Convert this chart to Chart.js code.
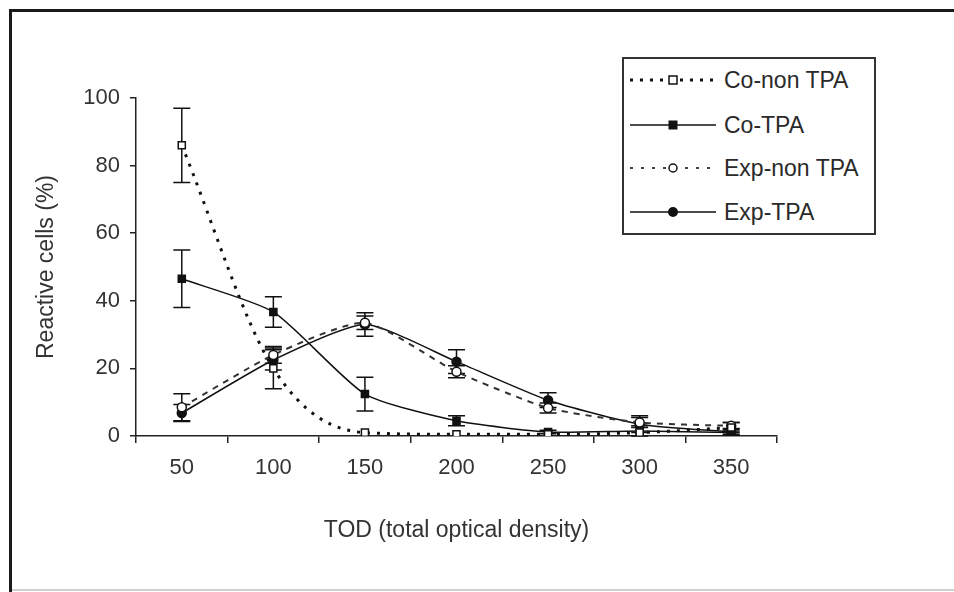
<!DOCTYPE html>
<html><head><meta charset="utf-8">
<script src="https://cdn.jsdelivr.net/npm/chart.js@4"></script>
<style>
html,body{margin:0;padding:0;background:#fff;}
#wrap{position:relative;width:954px;height:592px;overflow:hidden;background:#fff;}
#c{position:absolute;left:0;top:0;}
#frame{position:absolute;left:9px;top:9px;width:960px;height:600px;border-top:3px solid #1a1a1a;border-left:3px solid #1a1a1a;pointer-events:none;}
#bottomline{position:absolute;left:12px;top:589px;width:942px;height:0;border-top:2px solid #d0d0d0;pointer-events:none;}
#legend{position:absolute;left:622px;top:57px;width:250px;height:174px;border:2px solid #333;font-family:"Liberation Sans",Arial,sans-serif;font-size:23px;color:#2a2a2a;background:#fff;}
.row{position:absolute;left:0;height:30px;display:flex;align-items:center;white-space:nowrap;}
.row svg{margin-left:6px;display:block;}
.row span{margin-left:8px;}
</style>
</head><body>
<div id="wrap">
<canvas id="c" width="954" height="592"></canvas>
<div id="legend"></div>
<div id="frame"></div>
<div id="bottomline"></div>
</div>
<script>
const categories = ['50','100','150','200','250','300','350'];
const yTicks = [0,20,40,60,80,100];
const seriesNames = ['Co-non TPA','Co-TPA','Exp-non TPA','Exp-TPA'];
const coNonTPA    = [86, 20, 1, 0.5, 0.5, 1, 2.5];
const coNonTPAErr = [11, 6, 0, 0, 0, 0, 1.5];
const coTPA       = [46.5, 36.7, 12.4, 4.5, 1.2, 1.5, 1];
const coTPAErr    = [8.5, 4.5, 5, 1.5, 0.5, 1.5, 0.5];
const expNonTPA   = [8.5, 24, 33.5, 19, 8.3, 4, 3];
const expNonTPAErr= [4, 2.5, 2, 1.8, 1.5, 1.5, 1];
const expTPA      = [6.8, 22.5, 33, 22, 10.6, 3.5, 1.2];
const expTPAErr   = [2.5, 3, 3.5, 3.5, 2.2, 2.5, 1];

const FONT = '"Liberation Sans", Arial, sans-serif';

const errorBarPlugin = {
  id: 'errorBars',
  beforeDatasetsDraw(chart) {
    const {ctx, scales: {x, y}} = chart;
    ctx.save();
    ctx.strokeStyle = '#111';
    ctx.lineWidth = 1.5;
    ctx.setLineDash([]);
    chart.data.datasets.forEach(ds => {
      const errs = ds.errorBars;
      if (!errs) return;
      ds.data.forEach((v, i) => {
        const e = errs[i];
        if (!e) return;
        const px = x.getPixelForValue(i);
        const pt = y.getPixelForValue(v + e);
        const pb = y.getPixelForValue(Math.max(0, v - e));
        ctx.beginPath();
        ctx.moveTo(px, pt); ctx.lineTo(px, pb);
        ctx.moveTo(px - 8.5, pt); ctx.lineTo(px + 8.5, pt);
        ctx.moveTo(px - 8.5, pb); ctx.lineTo(px + 8.5, pb);
        ctx.stroke();
      });
    });
    ctx.restore();
  }
};

const common = {tension: 0.2, fill: false, borderColor: '#111', pointBorderColor: '#111', pointBorderWidth: 1.5};

new Chart(document.getElementById('c'), {
  type: 'line',
  data: {
    labels: categories,
    datasets: [
      Object.assign({}, common, {label: seriesNames[0], data: coNonTPA, errorBars: coNonTPAErr,
        cubicInterpolationMode: 'monotone',
        borderWidth: 3, borderDash: [3, 7], pointStyle: 'rect', pointRadius: 5,
        pointBackgroundColor: '#fff'}),
      Object.assign({}, common, {label: seriesNames[1], data: coTPA, errorBars: coTPAErr,
        borderWidth: 1.5, pointStyle: 'rect', pointRadius: 5, pointBackgroundColor: '#111'}),
      Object.assign({}, common, {label: seriesNames[2], data: expNonTPA, errorBars: expNonTPAErr,
        borderWidth: 2, borderDash: [6, 6], borderColor: '#333', pointStyle: 'circle', pointRadius: 4.5,
        pointBackgroundColor: '#fff'}),
      Object.assign({}, common, {label: seriesNames[3], data: expTPA, errorBars: expTPAErr,
        borderWidth: 1.5, pointStyle: 'circle', pointRadius: 4.5, pointBackgroundColor: '#111'})
    ]
  },
  options: {
    responsive: false, animation: false, devicePixelRatio: 1,
    layout: {padding: {left: 0, right: 177, top: 98, bottom: 0}},
    plugins: {legend: {display: false}, tooltip: {enabled: false}},
    scales: {
      x: {
        type: 'category', offset: true,
        grid: {offset: true, drawOnChartArea: false, drawTicks: true, tickLength: 7, color: '#222', lineWidth: 1.5},
        border: {display: true, color: '#222', width: 1.5},
        ticks: {font: {family: FONT, size: 22}, color: '#333', padding: 12, maxRotation: 0, autoSkip: false},
        title: {display: true, text: 'TOD (total optical density)', font: {family: FONT, size: 23}, color: '#333', padding: {top: 4, bottom: 48}},
        afterFit(s) { s.height = 156; }
      },
      y: {
        min: 0, max: 100,
        afterBuildTicks(s) { s.ticks = yTicks.map(v => ({value: v})); },
        grid: {drawOnChartArea: false, drawTicks: true, tickLength: 6, color: '#222', lineWidth: 1.5},
        border: {display: true, color: '#222', width: 1.5},
        ticks: {font: {family: FONT, size: 22}, color: '#333', padding: 10},
        title: {display: true, text: 'Reactive cells (%)', font: {family: FONT, size: 23}, color: '#333', padding: {top: 33, bottom: 0}},
        afterFit(s) { s.width = 136; }
      }
    }
  },
  plugins: [errorBarPlugin]
});

// Legend (HTML, real text)
const legendDefs = [
  {line: 'stroke-width="3" stroke-dasharray="3 7"', marker: '<rect x="39" y="11" width="8" height="8" fill="#fff" stroke="#111" stroke-width="1.5"/>', top: 6},
  {line: 'stroke-width="1.5"', marker: '<rect x="38.5" y="10.5" width="9" height="9" fill="#111"/>', top: 51},
  {line: 'stroke-width="2" stroke-dasharray="3 8" stroke-opacity="0.8"', marker: '<circle cx="43" cy="15" r="4" fill="#fff" stroke="#111" stroke-width="1.5"/>', top: 94},
  {line: 'stroke-width="1.5"', marker: '<circle cx="43" cy="15" r="5" fill="#111"/>', top: 138}
];
const leg = document.getElementById('legend');
legendDefs.forEach((d, i) => {
  const row = document.createElement('div');
  row.className = 'row';
  row.style.top = d.top + 'px';
  row.innerHTML = '<svg width="86" height="30"><line x1="0" y1="15" x2="86" y2="15" stroke="#111" ' + d.line + '/>' + d.marker + '</svg><span>' + seriesNames[i] + '</span>';
  leg.appendChild(row);
});
</script>
</body></html>
